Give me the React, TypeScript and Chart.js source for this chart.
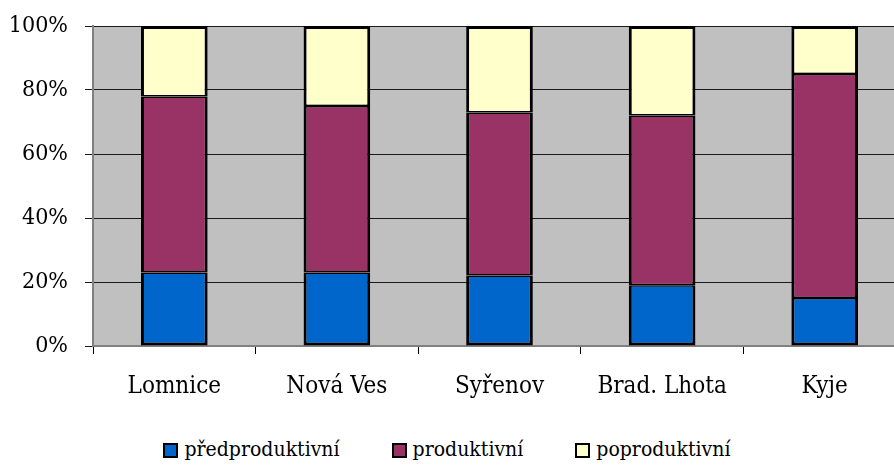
import React, { useEffect, useRef } from "react";
import { Chart, registerables } from "chart.js";

Chart.register(...registerables);

const categories = ["Lomnice", "Nová Ves", "Syřenov", "Brad. Lhota", "Kyje"];
const predproduktivni = [23, 23, 22, 19, 15];
const produktivni = [55, 52, 51, 53, 70];
const poproduktivni = [22, 25, 27, 28, 15];
const seriesNames = ["předproduktivní", "produktivní", "poproduktivní"];
const seriesColors = ["#0066CC", "#993366", "#FFFFCC"];
const yTickValues = [0, 20, 40, 60, 80, 100];

const FONT = "'DejaVu Serif Condensed', 'DejaVu Serif', serif";

const plotBg = {
  id: "plotBg",
  beforeDraw(chart: any) {
    const { ctx, chartArea } = chart;
    if (!chartArea) return;
    ctx.save();
    ctx.fillStyle = "#C0C0C0";
    ctx.fillRect(chartArea.left, chartArea.top, chartArea.right - chartArea.left, chartArea.bottom - chartArea.top);
    ctx.restore();
  },
};

const borderWidths = [
  { left: 3, right: 3, bottom: 3, top: 1.5 },
  { left: 3, right: 3, bottom: 1.5, top: 1.5 },
  { left: 3, right: 3, bottom: 1.5, top: 3 },
];

export default function App() {
  const ref = useRef<HTMLCanvasElement | null>(null);

  useEffect(() => {
    if (!ref.current) return;
    const seriesData = [predproduktivni, produktivni, poproduktivni];
    const chart = new Chart(ref.current, {
      type: "bar",
      data: {
        labels: categories,
        datasets: seriesData.map((d, i) => ({
          label: seriesNames[i],
          data: d,
          backgroundColor: seriesColors[i],
          borderColor: "#000000",
          borderWidth: borderWidths[i],
          borderSkipped: false,
          inflateAmount: 0,
          categoryPercentage: 1,
          barPercentage: 0.41,
        })),
      },
      options: {
        animation: false,
        responsive: true,
        maintainAspectRatio: false,
        layout: { padding: { top: 26, left: 0, right: 0, bottom: 0 } },
        plugins: {
          legend: { display: false },
          tooltip: { enabled: false },
        },
        scales: {
          x: {
            stacked: true,
            afterFit: (s: any) => {
              s.height = 64;
            },
            grid: {
              offset: true,
              drawOnChartArea: false,
              drawTicks: true,
              tickLength: 8,
              color: "#000000",
              lineWidth: 1,
            },
            border: { color: "#808080", width: 2 },
            ticks: {
              color: "#000000",
              padding: 18,
              font: { family: FONT, size: 24 },
              maxRotation: 0,
            },
          },
          y: {
            stacked: true,
            min: 0,
            max: 100,
            afterFit: (s: any) => {
              s.width = 93;
              s.paddingTop = 0;
              s.paddingBottom = 0;
            },
            afterBuildTicks: (s: any) => {
              s.ticks = yTickValues.map((v) => ({ value: v }));
            },
            grid: {
              color: "#1a1a1a",
              lineWidth: 1,
              tickLength: 8,
            },
            border: { color: "#808080", width: 2 },
            ticks: {
              color: "#000000",
              padding: 17,
              font: { family: FONT, size: 23 },
              callback: (v: any) => `${v}%`,
            },
          },
        },
      },
      plugins: [plotBg],
    });
    return () => chart.destroy();
  }, []);

  return (
    <div
      style={{
        position: "fixed",
        left: 0,
        top: 0,
        width: 894,
        height: 465,
        overflow: "hidden",
        background: "#ffffff",
      }}
    >
      <div style={{ position: "absolute", left: 0, top: 0, width: 906, height: 410 }}>
        <canvas ref={ref} />
      </div>
      <div
        style={{
          position: "absolute",
          left: 0,
          top: 434,
          width: 894,
          display: "flex",
          justifyContent: "center",
          gap: 52,
          fontFamily: FONT,
          fontSize: 21,
          lineHeight: "30px",
          color: "#000",
        }}
      >
        {seriesNames.map((n, i) => (
          <div key={n} style={{ display: "flex", alignItems: "center" }}>
            <span
              style={{
                display: "inline-block",
                width: 11,
                height: 11,
                border: "2px solid #000",
                background: seriesColors[i],
                marginRight: 6,
                marginTop: 2,
              }}
            />
            <span>{n}</span>
          </div>
        ))}
      </div>
    </div>
  );
}
